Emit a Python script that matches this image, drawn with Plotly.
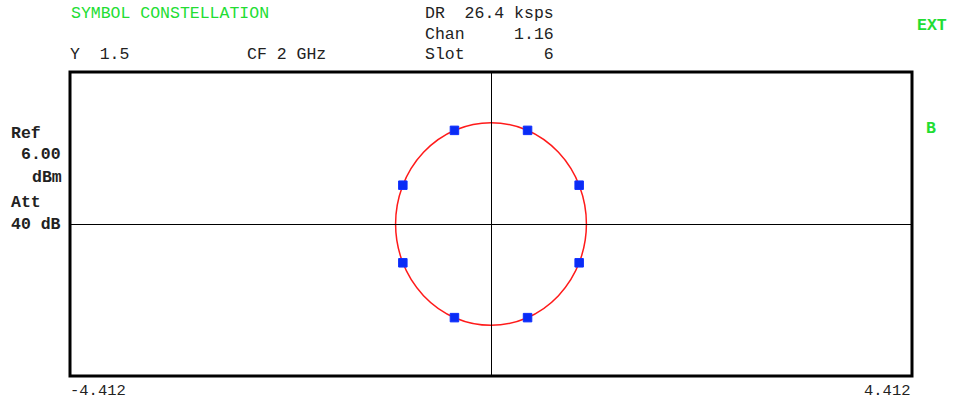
import plotly.graph_objects as go

# 8-PSK symbol decisions (I/Q), normalised to the unit circle
sym_i = [-0.383, 0.383, -0.924, 0.924, -0.924, 0.924, -0.383, 0.383]
sym_q = [0.924, 0.924, 0.383, 0.383, -0.383, -0.383, -0.924, -0.924]

x_span = 4.412
y_span = 1.5

header_left = ["SYMBOL CONSTELLATION"]
header_right = ["DR\u00a0\u00a026.4\u00a0ksps", "Chan\u00a0\u00a0\u00a0\u00a0\u00a01.16",
                "Slot\u00a0\u00a0\u00a0\u00a0\u00a0\u00a0\u00a0\u00a06"]
side_labels = ["Ref", "6.00", "dBm", "Att", "40\u00a0dB"]

W, H = 957, 400
L, R, T, B = 70, 912, 72, 376

MONO = "Liberation Mono, Courier New, monospace"
GREEN = "#22dd33"
INK = "#222222"


def px(x):
    return (x - L) / (R - L)


def py(y):
    return (B - y) / (B - T)


fig = go.Figure()

# reference unit circle
fig.add_shape(type="circle", xref="x", yref="y", x0=-1, x1=1, y0=-1, y1=1,
              line=dict(color="#ff1a1a", width=1.5), layer="below")

fig.add_trace(go.Scatter(
    x=sym_i, y=sym_q, mode="markers",
    marker=dict(symbol="square", size=8.5, color="#0a2cf5",
                line=dict(color="#1030ff", width=1)),
    hoverinfo="skip", showlegend=False,
))

ann = []


def text(s, x, y, anchor="left", color=INK, bold=False, size=16.5):
    ann.append(dict(
        text=f"<b>{s}</b>" if bold else s,
        x=px(x), y=py(y), xref="paper", yref="paper",
        xanchor=anchor, yanchor="middle", showarrow=False,
        font=dict(family=MONO, size=size, color=color),
    ))


text(header_left[0], 69, 13, color=GREEN)
text("Y\u00a0\u00a01.5", 68, 55)
text("CF\u00a02\u00a0GHz", 245, 55)
for s, y in zip(header_right, [13, 34, 55]):
    text(s, 423, y)
text("EXT", 949, 25, anchor="right", color=GREEN, bold=True)
text("B", 938, 128, anchor="right", color=GREEN, bold=True)
text(side_labels[0], 9, 133, bold=True)
text(side_labels[1], 63, 154, anchor="right", bold=True)
text(side_labels[2], 64, 177, anchor="right", bold=True)
text(side_labels[3], 9, 202, bold=True)
text(side_labels[4], 9, 224, bold=True)
text(f"-{x_span:.3f}", 68, 390.5, size=15.5)
text(f"{x_span:.3f}", 913, 390.5, anchor="right", size=15.5)

# heavy frame around the display area
fig.add_shape(type="rect", xref="paper", yref="paper", x0=0, x1=1, y0=0, y1=1,
              line=dict(color="black", width=3))

axis_common = dict(showgrid=False, showticklabels=False, ticks="",
                   zeroline=True, zerolinecolor="black", zerolinewidth=1,
                   showline=False, fixedrange=True)

fig.update_layout(
    width=W, height=H,
    margin=dict(l=L, r=W - R, t=T, b=H - B),
    paper_bgcolor="white", plot_bgcolor="white",
    xaxis=dict(range=[-x_span, x_span], **axis_common),
    yaxis=dict(range=[-y_span, y_span], **axis_common),
    annotations=ann,
    showlegend=False,
)

fig.write_html("out.html")
